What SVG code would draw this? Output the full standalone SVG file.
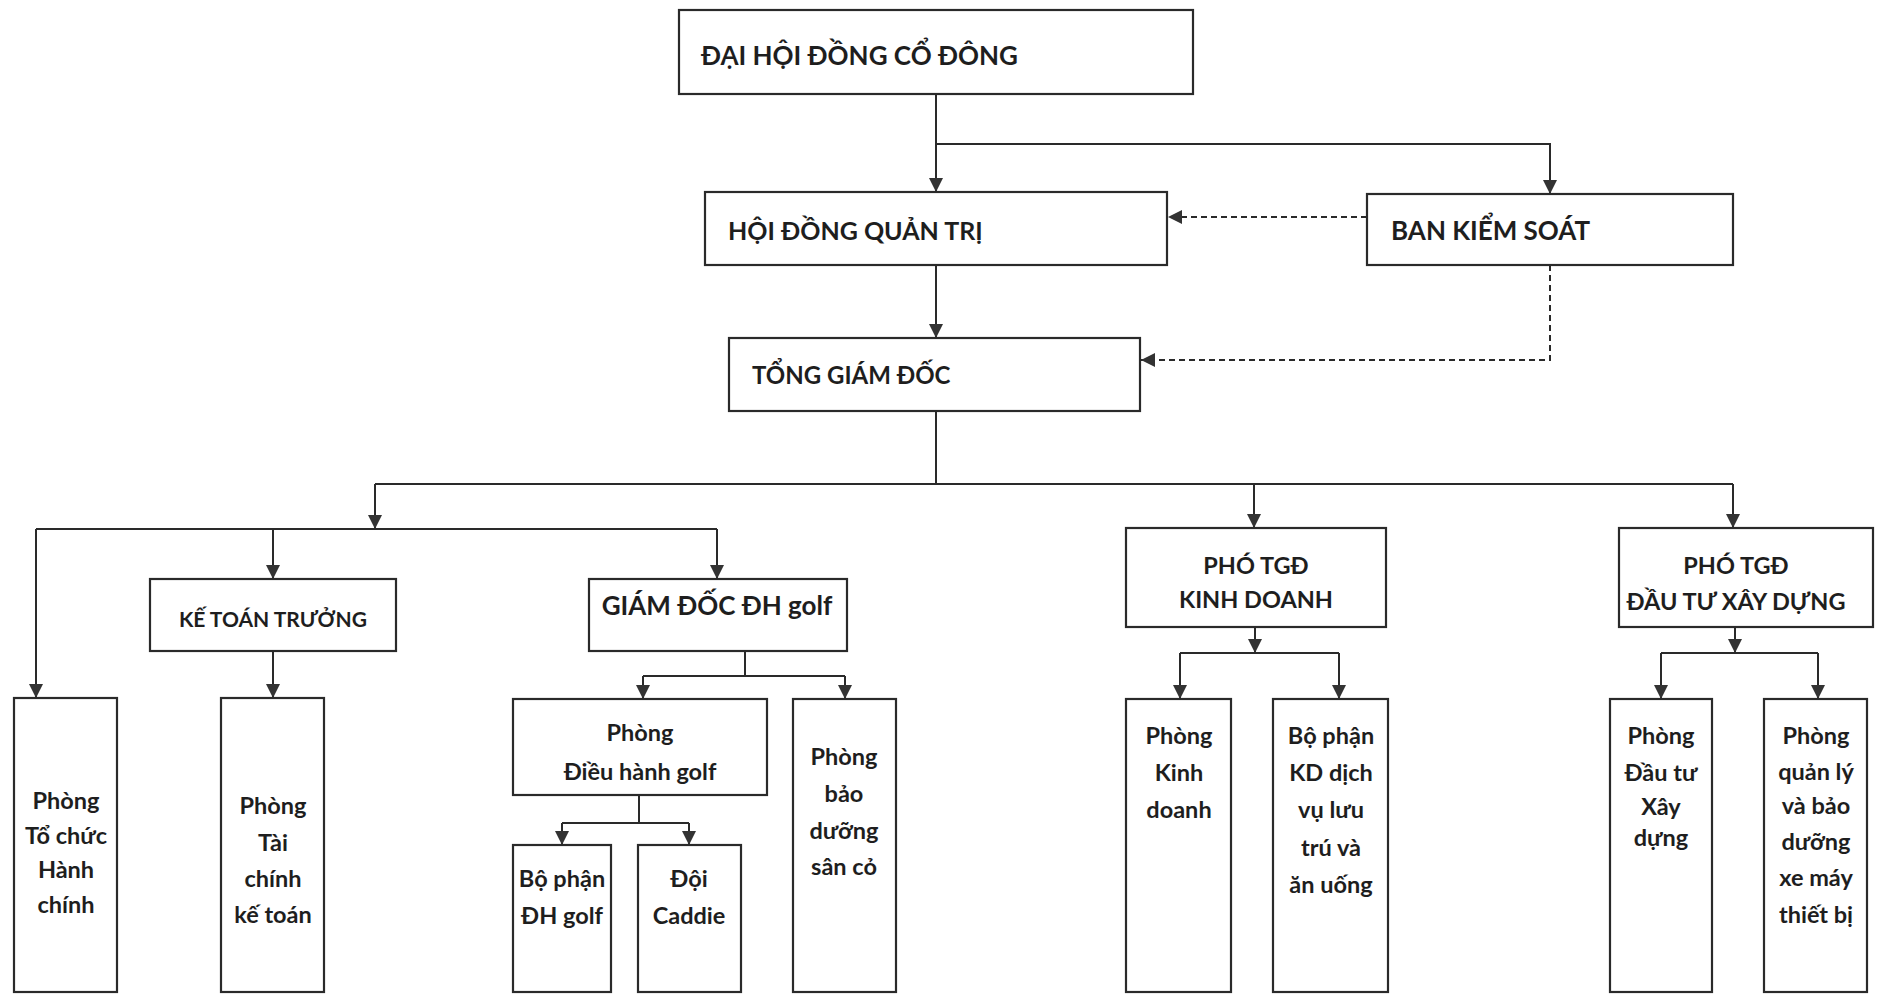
<svg xmlns="http://www.w3.org/2000/svg" width="1880" height="998" viewBox="0 0 1880 998">
<style>
  .box { fill: #ffffff; stroke: #2a2a2a; stroke-width: 2.2; }
  .t { font-family: "Lato", "Liberation Sans", sans-serif; font-weight: bold; fill: #1e1e1e; }
  .big { font-size: 26px; }
  .mid { font-size: 21px; text-anchor: middle; }
  .vp { font-size: 23.5px; text-anchor: middle; }
  .sm { font-size: 23.5px; text-anchor: middle; }
  .ln { fill: none; stroke: #2a2a2a; stroke-width: 2; }
  .dash { fill: none; stroke: #2a2a2a; stroke-width: 2; stroke-dasharray: 6 4; }
</style>
<defs>
  <marker id="ah" markerUnits="userSpaceOnUse" markerWidth="14" markerHeight="14" refX="14" refY="7" orient="auto">
    <path d="M0,0 L14,7 L0,14 z" fill="#333333"/>
  </marker>
</defs>
<rect width="1880" height="998" fill="#ffffff"/>

<g id="connectors">
  <path class="ln" d="M936,94 V192" marker-end="url(#ah)"/>
  <path class="ln" d="M936,144 H1550 V194" marker-end="url(#ah)"/>
  <path class="dash" d="M1367,217 H1168" marker-end="url(#ah)"/>
  <path class="ln" d="M936,265 V338" marker-end="url(#ah)"/>
  <path class="dash" d="M1550,265 V360 H1141" marker-end="url(#ah)"/>
  <path class="ln" d="M936,411 V484"/>
  <path class="ln" d="M375,484 H1733"/>
  <path class="ln" d="M375,484 V529" marker-end="url(#ah)"/>
  <path class="ln" d="M1254,484 V528" marker-end="url(#ah)"/>
  <path class="ln" d="M1733,484 V528" marker-end="url(#ah)"/>
  <path class="ln" d="M36,529 H717"/>
  <path class="ln" d="M36,529 V698" marker-end="url(#ah)"/>
  <path class="ln" d="M273,529 V579" marker-end="url(#ah)"/>
  <path class="ln" d="M717,529 V579" marker-end="url(#ah)"/>
  <path class="ln" d="M273,651 V698" marker-end="url(#ah)"/>
  <path class="ln" d="M745,651 V676"/>
  <path class="ln" d="M643,676 H845"/>
  <path class="ln" d="M643,676 V699" marker-end="url(#ah)"/>
  <path class="ln" d="M845,676 V699" marker-end="url(#ah)"/>
  <path class="ln" d="M639,795 V823"/>
  <path class="ln" d="M562,823 H689"/>
  <path class="ln" d="M562,823 V845" marker-end="url(#ah)"/>
  <path class="ln" d="M689,823 V845" marker-end="url(#ah)"/>
  <path class="ln" d="M1255,627 V653" marker-end="url(#ah)"/>
  <path class="ln" d="M1180,653 H1339"/>
  <path class="ln" d="M1180,653 V699" marker-end="url(#ah)"/>
  <path class="ln" d="M1339,653 V699" marker-end="url(#ah)"/>
  <path class="ln" d="M1735,627 V653" marker-end="url(#ah)"/>
  <path class="ln" d="M1661,653 H1818"/>
  <path class="ln" d="M1661,653 V699" marker-end="url(#ah)"/>
  <path class="ln" d="M1818,653 V699" marker-end="url(#ah)"/>
</g>

<g id="dhdcd">
  <rect class="box" x="679" y="10" width="514" height="84"/>
  <text class="t big" x="701" y="65">ĐẠI HỘI ĐỒNG CỔ ĐÔNG</text>
</g>
<g id="hdqt">
  <rect class="box" x="705" y="192" width="462" height="73"/>
  <text class="t big" x="728" y="240" style="font-size:25px">HỘI ĐỒNG QUẢN TRỊ</text>
</g>
<g id="bks">
  <rect class="box" x="1367" y="194" width="366" height="71"/>
  <text class="t big" x="1391" y="240">BAN KIỂM SOÁT</text>
</g>
<g id="tgd">
  <rect class="box" x="729" y="338" width="411" height="73"/>
  <text class="t big" x="752" y="384" style="font-size:24px">TỔNG GIÁM ĐỐC</text>
</g>
<g id="ktt">
  <rect class="box" x="150" y="579" width="246" height="72"/>
  <text class="t mid" x="273" y="627">KẾ TOÁN TRƯỞNG</text>
</g>
<g id="gddh">
  <rect class="box" x="589" y="579" width="258" height="72"/>
  <text class="t sm" x="717" y="615" style="font-size:26px">GIÁM ĐỐC ĐH golf</text>
</g>
<g id="ptgd-kd">
  <rect class="box" x="1126" y="528" width="260" height="99"/>
  <text class="t vp" x="1256" y="574">PHÓ TGĐ</text>
  <text class="t vp" x="1256" y="608">KINH DOANH</text>
</g>
<g id="ptgd-dt">
  <rect class="box" x="1619" y="528" width="254" height="99"/>
  <text class="t vp" x="1736" y="574">PHÓ TGĐ</text>
  <text class="t vp" x="1736" y="610">ĐẦU TƯ XÂY DỰNG</text>
</g>
<g id="p-tchc">
  <rect class="box" x="14" y="698" width="103" height="294"/>
  <text class="t sm" x="66" y="809">Phòng</text>
  <text class="t sm" x="66" y="844">Tổ chức</text>
  <text class="t sm" x="66" y="878">Hành</text>
  <text class="t sm" x="66" y="913">chính</text>
</g>
<g id="p-tckt">
  <rect class="box" x="221" y="698" width="103" height="294"/>
  <text class="t sm" x="273" y="814">Phòng</text>
  <text class="t sm" x="273" y="851">Tài</text>
  <text class="t sm" x="273" y="887">chính</text>
  <text class="t sm" x="273" y="923">kế toán</text>
</g>
<g id="p-dhgolf">
  <rect class="box" x="513" y="699" width="254" height="96"/>
  <text class="t sm" x="640" y="741">Phòng</text>
  <text class="t sm" x="640" y="780">Điều hành golf</text>
</g>
<g id="p-bdsc">
  <rect class="box" x="793" y="699" width="103" height="293"/>
  <text class="t sm" x="844" y="765">Phòng</text>
  <text class="t sm" x="844" y="802">bảo</text>
  <text class="t sm" x="844" y="839">dưỡng</text>
  <text class="t sm" x="844" y="875">sân cỏ</text>
</g>
<g id="bp-dhgolf">
  <rect class="box" x="513" y="845" width="98" height="147"/>
  <text class="t sm" x="562" y="887">Bộ phận</text>
  <text class="t sm" x="562" y="924">ĐH golf</text>
</g>
<g id="doi-caddie">
  <rect class="box" x="638" y="845" width="103" height="147"/>
  <text class="t sm" x="689" y="887">Đội</text>
  <text class="t sm" x="689" y="924">Caddie</text>
</g>
<g id="p-kd">
  <rect class="box" x="1126" y="699" width="105" height="293"/>
  <text class="t sm" x="1179" y="744">Phòng</text>
  <text class="t sm" x="1179" y="781">Kinh</text>
  <text class="t sm" x="1179" y="818">doanh</text>
</g>
<g id="bp-kddv">
  <rect class="box" x="1273" y="699" width="115" height="293"/>
  <text class="t sm" x="1331" y="744">Bộ phận</text>
  <text class="t sm" x="1331" y="781">KD dịch</text>
  <text class="t sm" x="1331" y="818">vụ lưu</text>
  <text class="t sm" x="1331" y="856">trú và</text>
  <text class="t sm" x="1331" y="893">ăn uống</text>
</g>
<g id="p-dtxd">
  <rect class="box" x="1610" y="699" width="102" height="293"/>
  <text class="t sm" x="1661" y="744">Phòng</text>
  <text class="t sm" x="1661" y="781">Đầu tư</text>
  <text class="t sm" x="1661" y="815">Xây</text>
  <text class="t sm" x="1661" y="846">dựng</text>
</g>
<g id="p-qlbd">
  <rect class="box" x="1764" y="699" width="103" height="293"/>
  <text class="t sm" x="1816" y="744">Phòng</text>
  <text class="t sm" x="1816" y="780">quản lý</text>
  <text class="t sm" x="1816" y="814">và bảo</text>
  <text class="t sm" x="1816" y="850">dưỡng</text>
  <text class="t sm" x="1816" y="886">xe máy</text>
  <text class="t sm" x="1816" y="923">thiết bị</text>
</g>
</svg>
